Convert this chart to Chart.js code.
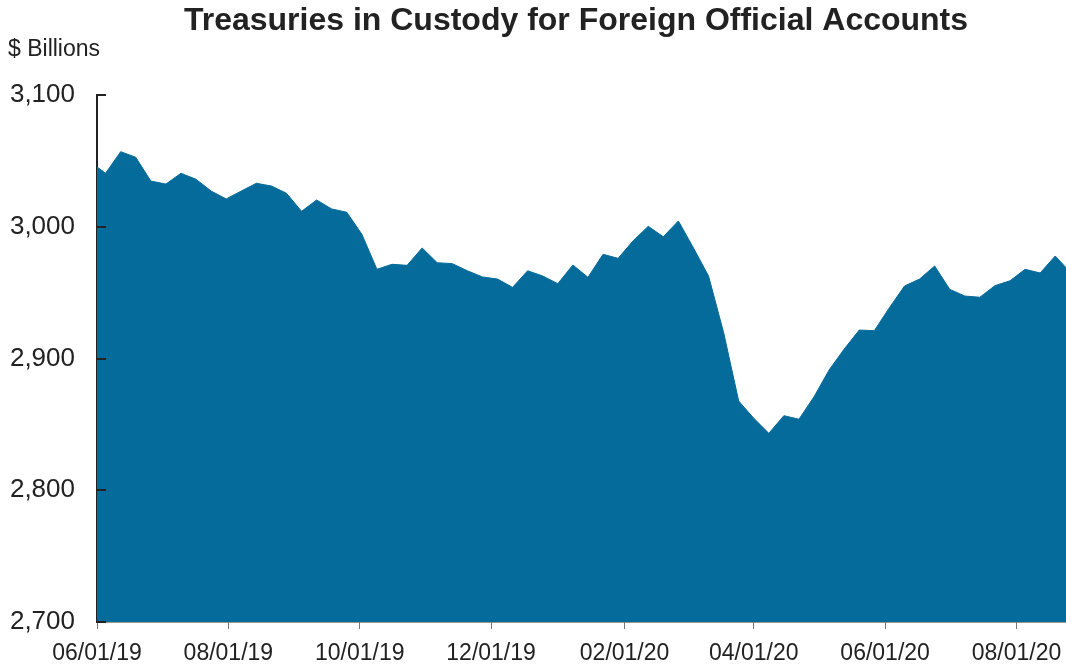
<!DOCTYPE html>
<html>
<head>
<meta charset="utf-8">
<script src="https://cdn.jsdelivr.net/npm/chart.js@4.4.1/dist/chart.umd.min.js"></script>
<style>
  html, body { margin: 0; padding: 0; background: #fff; }
  canvas { display: block; }
</style>
</head>
<body>
<canvas id="custodyChart" width="1066" height="664"></canvas>
<script>
// weekly readings (Wednesdays), $ billions
const weeks = [
  '05/29/19','06/05/19','06/12/19','06/19/19','06/26/19','07/03/19','07/10/19','07/17/19','07/24/19','07/31/19',
  '08/07/19','08/14/19','08/21/19','08/28/19','09/04/19','09/11/19','09/18/19','09/25/19','10/02/19','10/09/19',
  '10/16/19','10/23/19','10/30/19','11/06/19','11/13/19','11/20/19','11/27/19','12/04/19','12/11/19','12/18/19',
  '12/25/19','01/01/20','01/08/20','01/15/20','01/22/20','01/29/20','02/05/20','02/12/20','02/19/20','02/26/20',
  '03/04/20','03/11/20','03/18/20','03/25/20','04/01/20','04/08/20','04/15/20','04/22/20','04/29/20','05/06/20',
  '05/13/20','05/20/20','05/27/20','06/03/20','06/10/20','06/17/20','06/24/20','07/01/20','07/08/20','07/15/20',
  '07/22/20','07/29/20','08/05/20','08/12/20','08/19/20','08/26/20'
];
const holdings = [
  3049.0, 3040.6, 3057.0, 3052.7, 3034.7, 3032.4, 3040.6, 3036.0, 3027.1, 3021.1,
  3027.1, 3033.0, 3030.9, 3025.4, 3011.7, 3020.3, 3013.5, 3011.0, 2994.3, 2967.7,
  2971.5, 2970.7, 2983.9, 2972.7, 2972.0, 2966.6, 2961.9, 2960.3, 2954.0, 2966.6,
  2962.6, 2956.8, 2971.0, 2961.6, 2979.1, 2976.0, 2989.4, 3000.3, 2992.4, 3004.4,
  2983.9, 2962.6, 2919.7, 2867.7, 2854.6, 2843.2, 2856.6, 2853.9, 2871.0, 2891.3,
  2907.2, 2921.6, 2921.1, 2938.6, 2955.0, 2960.3, 2970.2, 2952.5, 2947.4, 2946.5,
  2955.3, 2959.0, 2967.7, 2964.9, 2977.8, 2965.4
];
const dateTicks = ['06/01/19','08/01/19','10/01/19','12/01/19','02/01/20','04/01/20','06/01/20','08/01/20'];
const xStart = '06/01/19';
const xEnd = '08/24/20';
const yTicks = [2700, 2800, 2900, 3000, 3100];

function dayNum(s) {
  const [m, d, y] = s.split('/').map(Number);
  return Date.UTC(2000 + y, m - 1, d) / 86400000;
}

const points = weeks.map((w, i) => ({ x: dayNum(w), y: holdings[i] }));

const overlay = {
  id: 'overlay',
  afterDraw(chart) {
    const c = chart.ctx;
    const area = chart.chartArea;
    const ys = chart.scales.y;
    c.save();
    // tick marks pointing into the plot
    c.strokeStyle = '#222';
    c.lineWidth = 2;
    yTicks.forEach(v => {
      const py = Math.round(ys.getPixelForValue(v));
      c.beginPath();
      c.moveTo(area.left, py);
      c.lineTo(area.left + 9, py);
      c.stroke();
    });
    c.fillStyle = '#222';
    c.font = 'bold 32px "Liberation Sans", Arial, sans-serif';
    c.textAlign = 'center';
    c.textBaseline = 'alphabetic';
    c.fillText('Treasuries in Custody for Foreign Official Accounts', 576, 30);
    c.font = '23px "Liberation Sans", Arial, sans-serif';
    c.textAlign = 'left';
    c.textBaseline = 'middle';
    c.fillText('$ Billions', 8, 50);
    c.restore();
  }
};

const ctx = document.getElementById('custodyChart').getContext('2d');
const custodyChart = new Chart(ctx, {
  type: 'line',
  data: {
    datasets: [{
      data: points,
      borderColor: '#056b9b',
      backgroundColor: '#056b9b',
      borderWidth: 1,
      pointRadius: 0,
      tension: 0,
      fill: 'start',
      clip: 0
    }]
  },
  options: {
    responsive: false,
    animation: false,
    devicePixelRatio: 1,
    layout: { padding: { top: 95, right: 0, bottom: 0, left: 0 } },
    plugins: {
      legend: { display: false },
      tooltip: { enabled: false }
    },
    scales: {
      x: {
        type: 'linear',
        min: dayNum(xStart),
        max: dayNum(xEnd),
        z: 1,
        afterBuildTicks(scale) {
          scale.ticks = dateTicks.map(t => ({ value: dayNum(t) }));
        },
        afterFit(scale) {
          scale.height = 42;
          scale.paddingLeft = 0;
          scale.paddingRight = 0;
        },
        ticks: {
          autoSkip: false,
          maxRotation: 0,
          padding: 11,
          color: '#222',
          font: { family: '"Liberation Sans", Arial, sans-serif', size: 23 },
          callback: (v, i) => dateTicks[i]
        },
        grid: { drawOnChartArea: false, drawTicks: true, tickLength: 7, color: '#777', lineWidth: 1 },
        border: { display: true, color: '#333', width: 1.5 }
      },
      y: {
        min: 2700,
        max: 3100,
        z: 1,
        afterBuildTicks(scale) {
          scale.ticks = yTicks.map(v => ({ value: v }));
        },
        afterFit(scale) { scale.width = 97; },
        ticks: {
          padding: 22,
          color: '#222',
          font: { family: '"Liberation Sans", Arial, sans-serif', size: 26 },
          callback: v => v.toLocaleString('en-US')
        },
        grid: { drawOnChartArea: false, drawTicks: false },
        border: { display: true, color: '#222', width: 2 }
      }
    }
  },
  plugins: [overlay]
});
</script>
</body>
</html>
